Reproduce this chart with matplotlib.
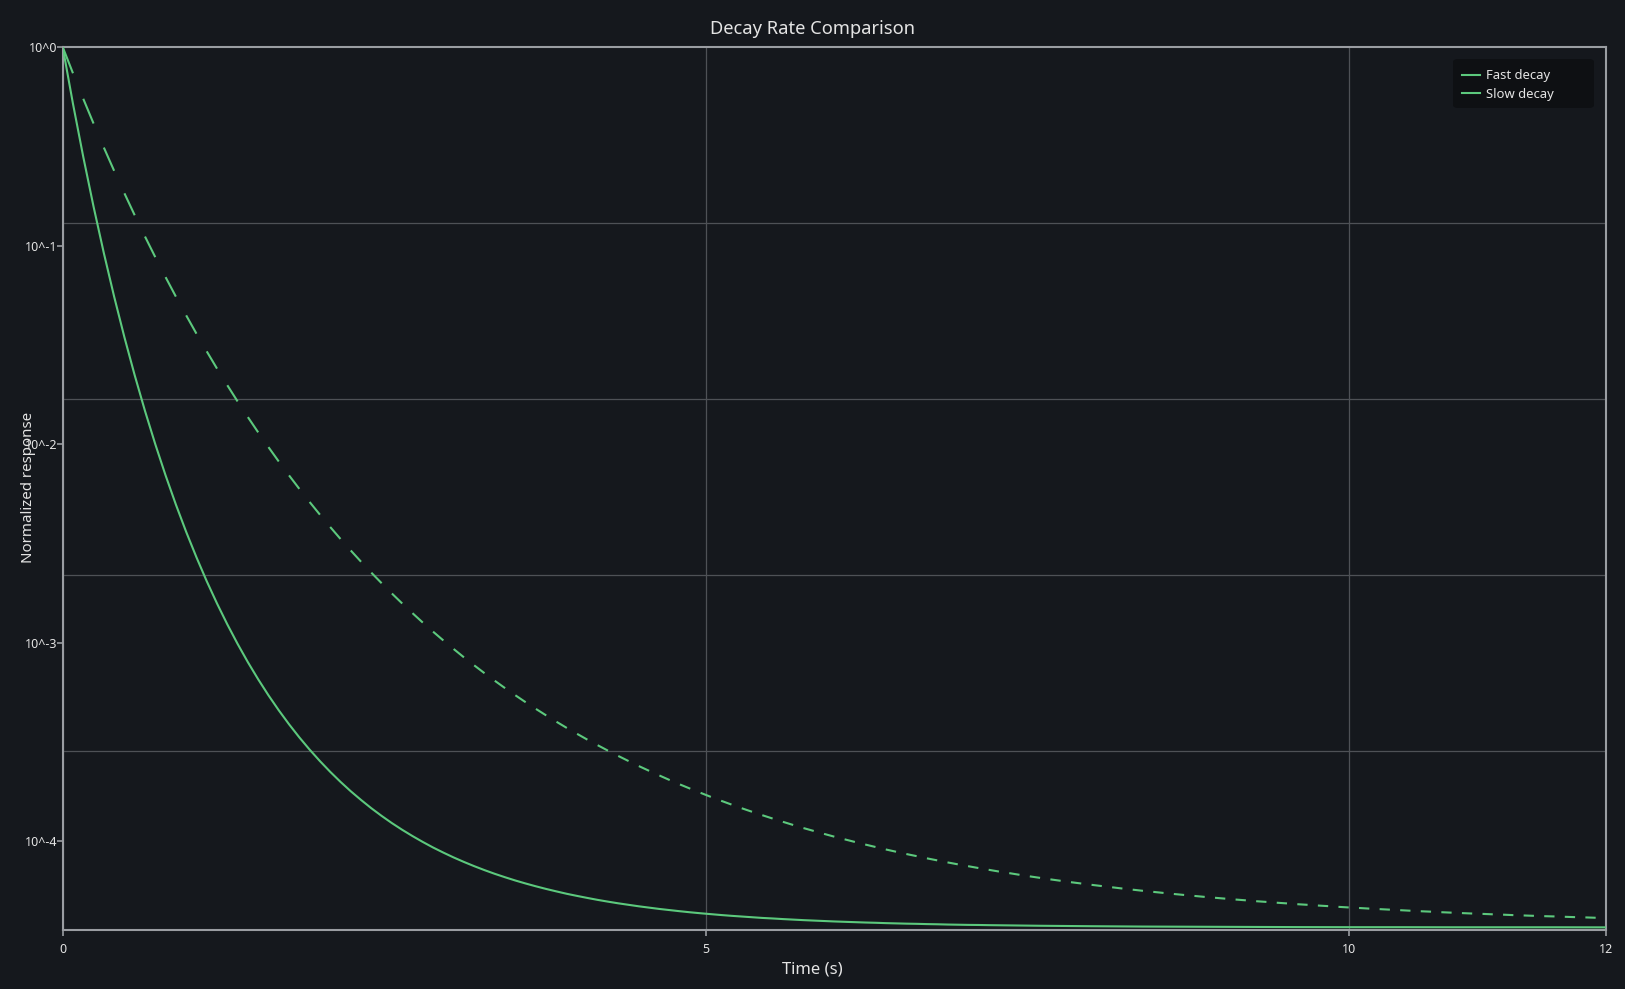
import numpy as np
import matplotlib
matplotlib.use("Agg")
import matplotlib.pyplot as plt
from matplotlib.collections import LineCollection
from matplotlib.lines import Line2D
from matplotlib.patches import FancyBboxPatch

plt.rcParams['font.family'] = ['Noto Sans', 'DejaVu Sans']

# ---------------- data ----------------
series_names = ["Fast decay", "Slow decay"]

slow_time = np.linspace(0, 12, 151)
slow_vals = [1.0000, 0.9702, 0.9412, 0.9131, 0.8858, 0.8594, 0.8338, 0.8089, 0.7847, 0.7613,
             0.7386, 0.7165, 0.6952, 0.6744, 0.6543, 0.6347, 0.6158, 0.5974, 0.5796, 0.5623,
             0.5455, 0.5292, 0.5134, 0.4981, 0.4832, 0.4688, 0.4548, 0.4412, 0.4281, 0.4153,
             0.4029, 0.3909, 0.3792, 0.3679, 0.3569, 0.3462, 0.3359, 0.3259, 0.3162, 0.3067,
             0.2976, 0.2887, 0.2801, 0.2717, 0.2636, 0.2557, 0.2481, 0.2407, 0.2335, 0.2265,
             0.2198, 0.2132, 0.2069, 0.2007, 0.1947, 0.1889, 0.1832, 0.1778, 0.1725, 0.1673,
             0.1623, 0.1575, 0.1528, 0.1482, 0.1438, 0.1395, 0.1353, 0.1313, 0.1274, 0.1236,
             0.1199, 0.1163, 0.1128, 0.1095, 0.1062, 0.1030, 0.1000, 0.0970, 0.0941, 0.0913,
             0.0885, 0.0859, 0.0833, 0.0809, 0.0784, 0.0761, 0.0738, 0.0716, 0.0695, 0.0674,
             0.0654, 0.0634, 0.0616, 0.0597, 0.0579, 0.0562, 0.0545, 0.0529, 0.0513, 0.0498,
             0.0483, 0.0469, 0.0455, 0.0441, 0.0428, 0.0415, 0.0403, 0.0391, 0.0379, 0.0368,
             0.0357, 0.0346, 0.0336, 0.0326, 0.0316, 0.0307, 0.0297, 0.0289, 0.0280, 0.0272,
             0.0263, 0.0256, 0.0248, 0.0241, 0.0233, 0.0226, 0.0220, 0.0213, 0.0207, 0.0201,
             0.0195, 0.0189, 0.0183, 0.0178, 0.0172, 0.0167, 0.0162, 0.0157, 0.0153, 0.0148,
             0.0144, 0.0139, 0.0135, 0.0131, 0.0127, 0.0124, 0.0120, 0.0116, 0.0113, 0.0109,
             0.0106]

fast_time = np.concatenate([np.linspace(0, 7.2, 91),
                            [7.6, 8.0, 8.4, 8.8, 9.2, 9.6, 10.0, 10.4, 10.8, 11.2, 11.6, 12.0]])
fast_vals = [1.0000, 0.9355, 0.8752, 0.8187, 0.7659, 0.7165, 0.6703, 0.6271, 0.5866, 0.5488,
             0.5134, 0.4803, 0.4493, 0.4204, 0.3932, 0.3679, 0.3442, 0.3220, 0.3012, 0.2818,
             0.2636, 0.2466, 0.2307, 0.2158, 0.2019, 0.1889, 0.1767, 0.1653, 0.1546, 0.1447,
             0.1353, 0.1266, 0.1184, 0.1108, 0.1037, 0.0970, 0.0907, 0.0849, 0.0794, 0.0743,
             0.0695, 0.0650, 0.0608, 0.0569, 0.0532, 0.0498, 0.0466, 0.0436, 0.0408, 0.0381,
             0.0357, 0.0334, 0.0312, 0.0292, 0.0273, 0.0256, 0.0239, 0.0224, 0.0209, 0.0196,
             0.0183, 0.0171, 0.0160, 0.0150, 0.0140, 0.0131, 0.0123, 0.0115, 0.0107, 0.0101,
             0.0094, 0.0088, 0.0082, 0.0077, 0.0072, 0.0067, 0.0063, 0.0059, 0.0055, 0.0052,
             0.0048, 0.0045, 0.0042, 0.0040, 0.0037, 0.0035, 0.0032, 0.0030, 0.0028, 0.0027,
             0.0025,
             0.0018, 0.0013, 0.0009, 0.0007, 0.0005, 0.0003, 0.0002, 0.0002, 0.0001, 0.0001,
             0.0001, 0.0000]

x_ticks = [0, 5, 10, 12]
x_ticklabels = ["0", "5", "10", "12"]
y_tick_pos = [1.0, 0.7744, 0.5488, 0.3232, 0.0976]
y_ticklabels = ["10^0", "10^-1", "10^-2", "10^-3", "10^-4"]
y_grid = [0.2, 0.4, 0.6, 0.8]

# ---------------- style ----------------
BG = '#15181d'
LEG_BG = '#0e1013'
GREEN = '#5cc97d'
SPINE = '#9a9da2'
GRID = '#4e5156'
TEXT = '#e4e4e4'
W, H = 1625, 989

fig = plt.figure(figsize=(16.25, 9.89), dpi=100, facecolor=BG)
ax = fig.add_axes([0.03858, 0.05966, 0.9497, 0.8928])
ax.set_facecolor(BG)
ax.set_xlim(0, 12)
ax.set_ylim(-0.003, 1.0)

# ticks & grid
ax.set_xticks(x_ticks)
ax.set_xticklabels(x_ticklabels)
ax.set_yticks(y_tick_pos)
ax.set_yticklabels(y_ticklabels)
ax.set_yticks(y_grid, minor=True)
ax.grid(False)
ax.xaxis.grid(True, which='major', color=GRID, lw=0.9)
ax.yaxis.grid(True, which='minor', color=GRID, lw=0.9)
ax.set_axisbelow(True)
ax.tick_params(axis='y', which='minor', length=0)
ax.tick_params(axis='both', which='major', colors=SPINE, labelcolor=TEXT, labelsize=9,
               length=4.5, width=1.2)
ax.tick_params(axis='y', which='major', pad=-1)
ax.tick_params(axis='x', which='major', pad=5)

for s in ax.spines.values():
    s.set_color(SPINE)
    s.set_linewidth(1.5)

# curves
ax.plot(fast_time, fast_vals, color=GREEN, lw=1.5, solid_capstyle='butt', zorder=3)
segs = [[(slow_time[i], slow_vals[i]), (slow_time[i + 1], slow_vals[i + 1])]
        for i in range(0, len(slow_time) - 1, 2)]
lc = LineCollection(segs, colors=GREEN, linewidths=1.5, capstyle='butt', zorder=3)
ax.add_collection(lc)

# legend box (drawn in figure pixels)
bx0, bx1, by0, by1 = 1453, 1594, 59, 108
box = FancyBboxPatch((bx0 / W, 1 - by1 / H), (bx1 - bx0) / W, (by1 - by0) / H,
                     boxstyle='round,pad=0,rounding_size=0.003',
                     transform=fig.transFigure, facecolor=LEG_BG, edgecolor='none',
                     zorder=5)
fig.add_artist(box)
handles = [Line2D([], [], color=GREEN, lw=1.5), Line2D([], [], color=GREEN, lw=1.5)]
leg = fig.legend(handles, series_names, loc='upper left',
                 bbox_to_anchor=(1462 / W, 1 - 69.5 / H), fontsize=9.4, frameon=False,
                 labelcolor=TEXT, handlelength=1.4, handletextpad=0.45,
                 labelspacing=0.4, borderpad=0, borderaxespad=0)
leg.set_zorder(6)

fig.text(0.5, 1 - 29.5 / H, "Decay Rate Comparison", ha='center', va='center',
         fontsize=13.2, color=TEXT)
fig.text(0.5, 1 - 969.5 / H, "Time (s)", ha='center', va='center',
         fontsize=12, color=TEXT)
fig.text(28 / W, 1 - 487 / H, "Normalized response", ha='center', va='center',
         rotation=90, fontsize=10.8, color=TEXT)

fig.savefig("out.png", dpi=100, facecolor=BG)
